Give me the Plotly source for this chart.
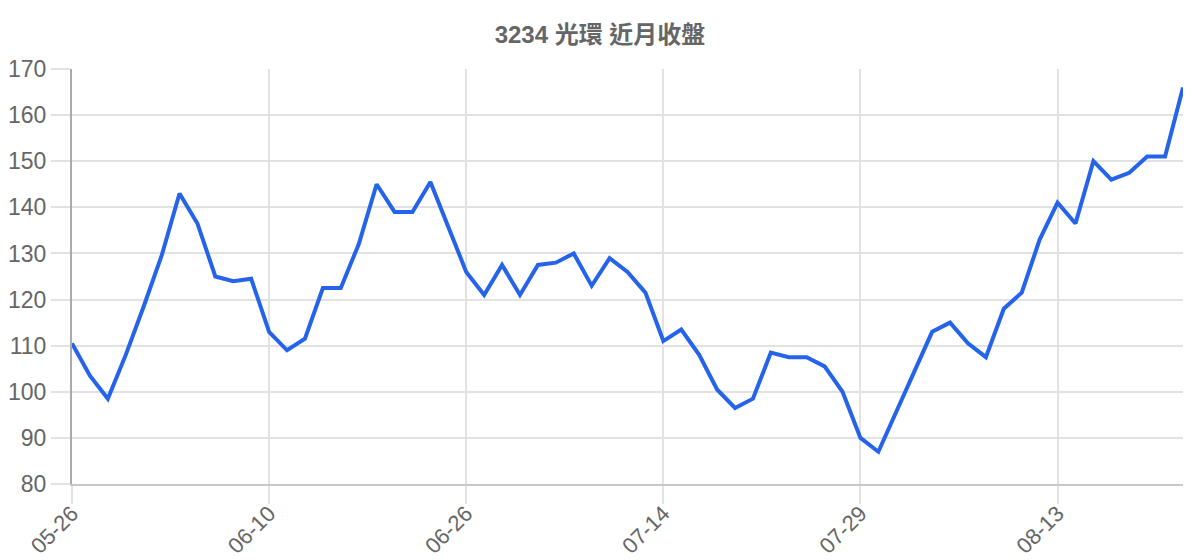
import plotly.graph_objects as go

# trading days (MM-DD)
dates = [
    "05-26", "05-27", "05-28", "05-29", "05-30", "06-02", "06-03", "06-04", "06-05", "06-06", "06-09",
    "06-10", "06-11", "06-12", "06-13", "06-16", "06-17", "06-18", "06-19", "06-23", "06-24", "06-25",
    "06-26", "06-27", "06-30", "07-01", "07-02", "07-03", "07-07", "07-08", "07-09", "07-10", "07-11",
    "07-14", "07-15", "07-16", "07-17", "07-18", "07-21", "07-22", "07-23", "07-24", "07-25", "07-28",
    "07-29", "07-30", "07-31", "08-01", "08-04", "08-05", "08-06", "08-07", "08-08", "08-11", "08-12",
    "08-13", "08-14", "08-15", "08-18", "08-19", "08-20", "08-21", "08-22",
]

# closing prices
close = [
    110.5, 103.5, 98.5, 108, 118.5, 129.5, 143, 136.5, 125, 124, 124.5,
    113, 109, 111.5, 122.5, 122.5, 132, 145, 139, 139, 145.5, 135.5,
    126, 121, 127.5, 121, 127.5, 128, 130, 123, 129, 126, 121.5,
    111, 113.5, 108, 100.5, 96.5, 98.5, 108.5, 107.5, 107.5, 105.5, 100,
    90, 87, 95.5, 104, 113, 115, 110.5, 107.5, 118, 121.5, 133,
    141, 136.5, 150, 146, 147.5, 151, 151, 166,
]

tick_labels = ["05-26", "06-10", "06-26", "07-14", "07-29", "08-13"]

fig = go.Figure()

fig.add_trace(go.Scatter(
    x=dates,
    y=close,
    mode="lines",
    line=dict(color="#2563eb", width=4),
    hoverinfo="x+y",
))

# the page body has an 8px margin, so margins are shifted by 8px
fig.update_layout(
    width=1200,
    height=560,
    margin=dict(l=64, r=25, t=61, b=84),
    paper_bgcolor="white",
    plot_bgcolor="white",
    showlegend=False,
    font=dict(family="Liberation Sans, Arial, Noto Sans CJK TC", color="#666666"),
    title=dict(
        text="<b>3234 光環 近月收盤</b>",
        x=592 / 1200,
        xanchor="center",
        y=1 - 27 / 560,
        yanchor="middle",
        font=dict(size=24, color="#666666",
                  family="Liberation Sans, Arial, Noto Sans CJK TC"),
    ),
    xaxis=dict(
        type="category",
        range=[0, len(dates) - 1],
        tickmode="array",
        tickvals=tick_labels,
        ticktext=tick_labels,
        tickangle=-45,
        tickfont=dict(size=22, color="#666666"),
        ticklabelstandoff=-12,
        showgrid=True,
        gridcolor="#e2e2e2",
        gridwidth=1.5,
        ticks="outside",
        ticklen=18,
        tickcolor="#e2e2e2",
        tickwidth=1.5,
        showline=True,
        linecolor="#c8c8c8",
        linewidth=2,
        zeroline=False,
        automargin=False,
    ),
    yaxis=dict(
        range=[80, 170],
        dtick=10,
        tickfont=dict(size=23, color="#666666"),
        showgrid=True,
        gridcolor="#e2e2e2",
        gridwidth=1.5,
        ticks="outside",
        ticklen=19,
        tickcolor="#e2e2e2",
        tickwidth=1.5,
        showline=True,
        linecolor="#aaaaaa",
        linewidth=2,
        zeroline=False,
        automargin=False,
    ),
)

fig.write_html("out.html")
